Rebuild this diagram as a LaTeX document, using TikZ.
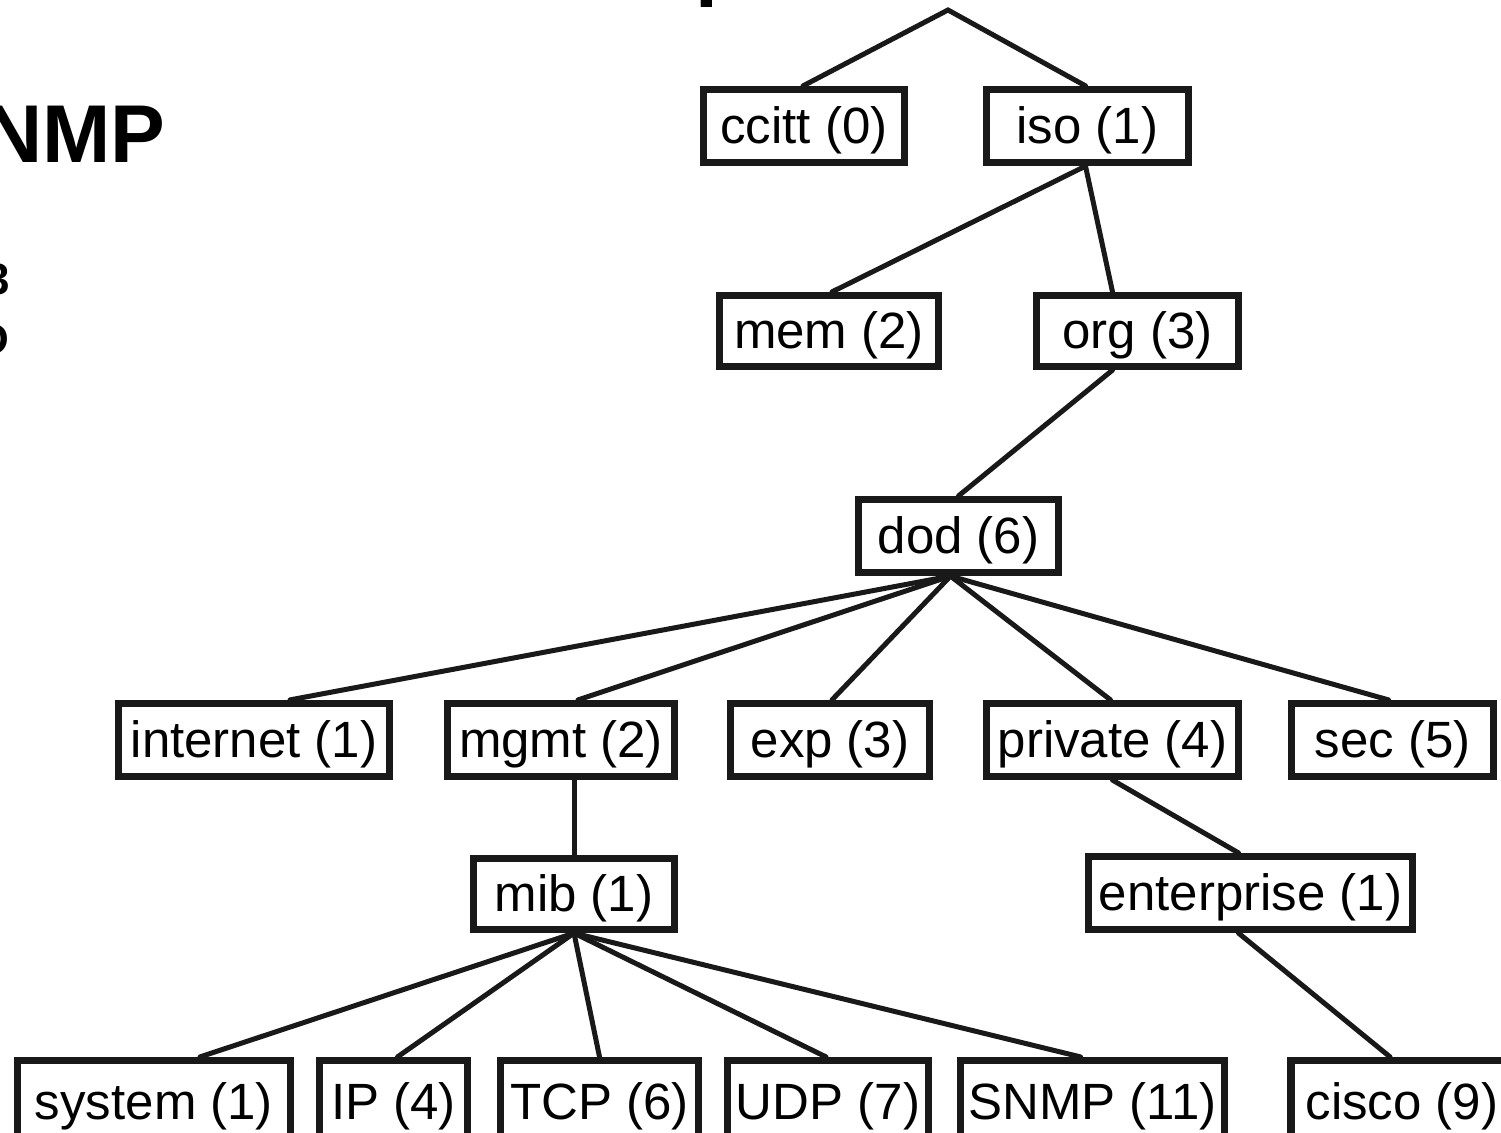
\documentclass[tikz,border=0pt]{standalone}
\usepackage{fontspec}
\setmainfont{Liberation Sans}
\usetikzlibrary{calc}
\tikzset{
  x=0.5bp, y=-0.5bp,
  box/.style={draw=black!90, line width=3.6bp, fill=white, rectangle, inner sep=0pt,
    text height=22.6bp, text depth=5.4bp,
    minimum height=36.5bp, font=\fontsize{25.5bp}{30bp}\selectfont},
  bottombox/.style={box, minimum height=41.5bp},
  link/.style={draw=black!90, line width=2.5bp, line cap=round},
  clipped/.style={inner sep=0pt, font=\bfseries}
}
\begin{document}
\begin{tikzpicture}
\useasboundingbox (0,0) rectangle (1501,1133);
% partial texts cut by the edge
\node[clipped, anchor=base east, font=\fontsize{41bp}{48bp}\selectfont\bfseries] (title) at (166,163) {SNMP};
\node[clipped, anchor=base east, font=\fontsize{22bp}{26bp}\selectfont\bfseries] (t3) at (10,295) {3};
\node[clipped, anchor=base east, font=\fontsize{22bp}{26bp}\selectfont\bfseries] (tD) at (10,355) {D};
\node[clipped, anchor=base west, font=\fontsize{41bp}{48bp}\selectfont\bfseries] (tp) at (695,-9) {p};

% nodes
\coordinate (root) at (948,10);
\node[box, minimum width=100.5bp] (ccitt) at (804,126) {ccitt (0)};
\node[box, minimum width=101bp] (iso) at (1087.5,126) {iso (1)};
\node[box, minimum width=109.5bp, minimum height=35.5bp] (mem) at (829,331) {mem (2)};
\node[box, minimum width=101bp, minimum height=35.5bp] (org) at (1137.5,331) {org (3)};
\node[box, minimum width=100bp] (dod) at (958.5,536) {dod (6)};
\node[box, minimum width=135.5bp] (internet) at (254,740) {internet (1)};
\node[box, minimum width=113.5bp] (mgmt) at (561,740) {mgmt (2)};
\node[box, minimum width=99.5bp] (exp) at (830,740) {exp (3)};
\node[box, minimum width=126bp] (private) at (1112.5,740) {private (4)};
\node[box, minimum width=101bp] (sec) at (1392.5,740) {sec (5)};
\node[box, minimum width=100.5bp, minimum height=35.5bp] (mib) at (574,894) {mib (1)};
\node[box, minimum width=162bp] (enterprise) at (1250.5,893) {enterprise (1)};
\node[bottombox, minimum width=136.5bp] (system) at (154,1102) {system (1)};
\node[bottombox, minimum width=74bp] (IP) at (393.5,1102) {IP (4)};
\node[bottombox, minimum width=99bp] (TCP) at (599.5,1102) {TCP (6)};
\node[bottombox, minimum width=100.5bp] (UDP) at (828,1102) {UDP (7)};
\node[bottombox, minimum width=132bp] (SNMP) at (1092.5,1102) {SNMP (11)};
\node[bottombox, minimum width=111bp] (cisco) at (1402,1102) {cisco (9)};

% connectors
\draw[link] ($(ccitt.north)+(-1,0)$) -- (root) -- ($(iso.north)+(-2,0)$);
\draw[link] ($(iso.south)+(-2,0)$) -- ($(mem.north)+(3,0)$);
\draw[link] ($(iso.south)+(-2,0)$) -- ($(org.north)+(-25,0)$);
\draw[link] ($(org.south)+(-25,0)$) -- (dod.north);
\draw[link] ($(dod.south)+(-8,0)$) -- ($(internet.north)+(36,0)$);
\draw[link] ($(dod.south)+(-8,0)$) -- ($(mgmt.north)+(17,0)$);
\draw[link] ($(dod.south)+(-8,0)$) -- ($(exp.north)+(2,0)$);
\draw[link] ($(dod.south)+(-8,0)$) -- ($(private.north)+(-2,0)$);
\draw[link] ($(dod.south)+(-8,0)$) -- ($(sec.north)+(-4,0)$);
\draw[link] ($(mgmt.south)+(13,0)$) -- (mib.north);
\draw[link] (private.south) -- ($(enterprise.north)+(-12,0)$);
\draw[link] ($(enterprise.south)+(-12,0)$) -- ($(cisco.north)+(-12,0)$);
\draw[link] (mib.south) -- ($(system.north)+(46,0)$);
\draw[link] (mib.south) -- ($(IP.north)+(4,0)$);
\draw[link] (mib.south) -- (TCP.north);
\draw[link] (mib.south) -- ($(UDP.north)+(-2,0)$);
\draw[link] (mib.south) -- ($(SNMP.north)+(-12,0)$);
\end{tikzpicture}
\end{document}
